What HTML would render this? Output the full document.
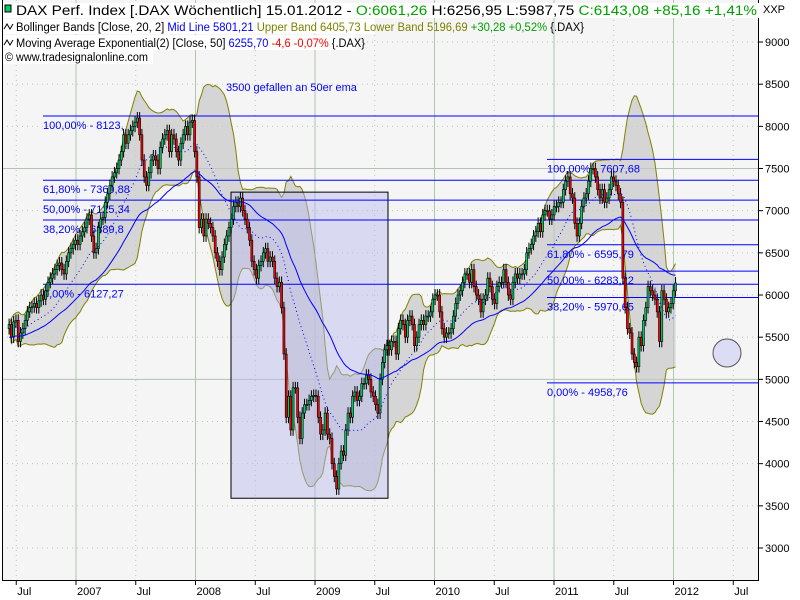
<!DOCTYPE html>
<html><head><meta charset="utf-8"><style>
body{margin:0;background:#fff}
svg{display:block;font-family:"Liberation Sans",sans-serif}
</style></head><body>
<svg id="chart" width="800" height="600" viewBox="0 0 800 600" xmlns="http://www.w3.org/2000/svg">
<rect x="0" y="0" width="800" height="600" fill="#ffffff"/>
<rect x="2" y="0" width="756" height="580" fill="#f5f5f5"/>
<g id="grid"></g>
<g id="bands"></g>
<g id="shapes"></g>
<g id="fibs"></g>
<g id="candles"></g>
<g id="lines"></g>
<g id="axes"></g>
<g id="header"></g>
</svg>
<script>
const NS='http://www.w3.org/2000/svg';
// weekly closes from mid-June 2006 to 13 Jan 2012
const closes=[5650,5500,5680,
5700,5450,5550,5600, 5700,5800,5850,5860, 5900,5850,5930,6000,5950, 6050,6150,6200,6250, 6300,6350,6380,6300, 6250,6400,6500,6550,6600,
6650,6600,6700,6750, 6800,6900,6950,6700, 6500,6550,6800,6900,6920, 7100,7200,7300,7400, 7450,7500,7600,7700, 7900,7800,7900,7950,8000, 8050,8100,7900,7600, 7400,7300,7450,7600,7650, 7600,7500,7750,7850, 7900,7950,7700,7900, 7850,7700,7600,7800,7900, 8000,7900,8050,8070,
7700,7400,6800,6900, 6700,6900,6850,6800,6700, 6500,6400,6300,6450, 6600,6700,6800,6900, 7050,7100,7050,7150,7000, 6900,6800,6650,6400, 6300,6200,6350,6400, 6500,6550,6400,6450,6400, 6200,6100,6150,5850, 5300,4550,4800,4400,4900, 4900,4550,4300,4600, 4700,4700,4750,4800,4810,
4800,4550,4350,4400, 4600,4350,4300,4000, 3850,3700,4000,4150,4100, 4400,4600,4550,4800, 4850,4750,4800,4950,4950, 5050,5000,4850,4800, 4700,4600,5000,5200, 5350,5400,5350,5450,5450, 5300,5600,5700,5650, 5500,5700,5750,5650,5400, 5500,5650,5700,5650, 5750,5750,5800,5950,
6000,6000,5800,5600, 5500,5550,5550,5600, 5750,5900,6000,6050,6150, 6250,6250,6150,6300, 6100,6000,5950,5800, 5950,6000,6200,6100,5950, 5900,6100,6150,6150, 6300,6150,6000,5950, 6150,6250,6200,6250, 6250,6300,6500,6550,6600, 6700,6750,6850,6750, 6950,7000,7000,6900,
6950,7050,7050,7100,7100, 7250,7350,7400,7200, 7150,6850,6700,6850, 7050,7150,7200,7350,7500, 7500,7400,7250,7150, 7250,7100,7150,7250, 7400,7350,7300,7200,7100, 6200,5850,5600,5550, 5300,5200,5150,5500,5400, 5700,5850,6100,6050, 6000,5950,5800,5450, 6050,5950,5800,5850,5900,
6050,6143];
const firstOpen=5600;
const priceTicks=[3000,3500,4000,4500,5000,5500,6000,6500,7000,7500,8000,8500,9000];
const solidPriceLines=[5000,7500];
const timeLabels=['Jul','2007','Jul','2008','Jul','2009','Jul','2010','Jul','2011','Jul','2012','Jul'];
const timeTicks=[2006.5,2007,2007.5,2008,2008.5,2009,2009.5,2010,2010.5,2011,2011.5,2012,2012.5];
const fibLeftLabels=['100,00% - 8123,','61,80% - 7360,88','50,00% - 7125,34','38,20% - 6889,8','0,00% - 6127,27'];
const fibLeftValues=[8123,7360.88,7125.34,6889.8,6127.27];
const fibRightLabels=['100,00% - 7607,68','61,80% - 6595,79','50,00% - 6283,22','38,20% - 5970,65','0,00% - 4958,76'];
const fibRightValues=[7607.68,6595.79,6283.22,5970.65,4958.76];
const startT=2006.44;

const y=p=>548-(p-3000)*0.08433;
const xT=t=>76+(t-2007)*119.5;
const xi=i=>xT(startT+i*7/365.25);
function el(tag,attrs,parent,txt){const e=document.createElementNS(NS,tag);for(const k in attrs)e.setAttribute(k,attrs[k]);if(txt!==undefined)e.textContent=txt;parent.appendChild(e);return e;}

// grid
const grid=document.getElementById('grid');
priceTicks.forEach(p=>{
 const solid=solidPriceLines.includes(p);
 const l=el('line',{x1:2,x2:758,y1:y(p),y2:y(p),stroke:solid?'#b0c4b0':'#b8c8b8','stroke-width':1,'stroke-dasharray':solid?'':'1,4'},grid);
 
 
});
timeTicks.forEach((t,i)=>{
 const major=timeLabels[i]!=='Jul';
 const l=el('line',{x1:xT(t),x2:xT(t),y1:0,y2:580,stroke:major?'#b0c4b0':'#b8c8b8','stroke-width':1,'stroke-dasharray':major?'':'1,4'},grid);
 
 
});

// bollinger & ema
const n=closes.length, mid=[],up=[],lo=[],ema=[];
for(let i=0;i<n;i++){
 const s=Math.max(0,i-19), w=closes.slice(s,i+1);
 const m=w.reduce((a,b)=>a+b,0)/w.length;
 const sd=Math.sqrt(w.reduce((a,b)=>a+(b-m)*(b-m),0)/w.length);
 mid.push(m);up.push(m+2*sd);lo.push(m-2*sd);
 const k=2/51; ema.push(i===0?closes[0]-150:ema[i-1]+k*(closes[i]-ema[i-1]));
}
const bands=document.getElementById('bands');
let d='';for(let i=0;i<n;i++)d+=(i?'L':'M')+xi(i).toFixed(1)+','+y(up[i]).toFixed(1);
for(let i=n-1;i>=0;i--)d+='L'+xi(i).toFixed(1)+','+y(lo[i]).toFixed(1);
const bf=el('path',{d:d+'Z',fill:'#c8c8c8','fill-opacity':0.7,stroke:'none'},bands);

['up','lo'].forEach(k=>{const arr=k==='up'?up:lo;let p='';arr.forEach((v,i)=>p+=(i?'L':'M')+xi(i).toFixed(1)+','+y(v).toFixed(1));
 const l=el('path',{d:p,fill:'none',stroke:'#808000','stroke-width':1},bands);
 });

// shapes
const sh=document.getElementById('shapes');
const r=el('rect',{x:231,y:y(7220),width:157,height:y(3590)-y(7220),fill:'#b8b8f0','fill-opacity':0.45,stroke:'#000','stroke-width':1},sh);

const c=el('circle',{cx:727,cy:353,r:14,fill:'#dcdcf4',stroke:'#555','stroke-width':1},sh);

const an=el('text',{x:226,y:91,'font-size':11,fill:'#0000ff'},sh,'3500 gefallen an 50er ema');


// fibs
const fg=document.getElementById('fibs');
fibLeftValues.forEach((v,i)=>{
 const l=el('line',{x1:43,x2:758,y1:y(v),y2:y(v),stroke:'#0000ff','stroke-width':1},fg);
 
 const t=el('text',{x:43,y:y(v)+13,'font-size':11,fill:'#0000ff'},fg,fibLeftLabels[i]);
 
});
fibRightValues.forEach((v,i)=>{
 const l=el('line',{x1:547,x2:758,y1:y(v),y2:y(v),stroke:'#0000ff','stroke-width':1},fg);
 
 const t=el('text',{x:547,y:y(v)+13,'font-size':11,fill:'#0000ff'},fg,fibRightLabels[i]);
 
});

// candles
const cg=document.getElementById('candles');
for(let i=0;i<n;i++){
 const o=i?closes[i-1]:firstOpen, cl=closes[i], x=xi(i);
 const hi=Math.max(o,cl)+70, lw=Math.min(o,cl)-70;
 const w=el('line',{x1:x,x2:x,y1:y(hi),y2:y(lw),stroke:'#000','stroke-width':1},cg);
 
 const top=y(Math.max(o,cl)), h=Math.max(1,Math.abs(y(o)-y(cl)));
 const b=el('rect',{x:x-1,y:top,width:2,height:h,fill:cl>=o?'#00cc66':'#ff0000',stroke:'#000','stroke-width':0.6},cg);
 
}
// lines
const lg=document.getElementById('lines');
let pm='',pe='';for(let i=0;i<n;i++){pm+=(i?'L':'M')+xi(i).toFixed(1)+','+y(mid[i]).toFixed(1);pe+=(i?'L':'M')+xi(i).toFixed(1)+','+y(ema[i]).toFixed(1);}
const ml=el('path',{d:pm,fill:'none',stroke:'#0000ff','stroke-width':1,'stroke-dasharray':'1,3'},lg);

const el50=el('path',{d:pe,fill:'none',stroke:'#0000ff','stroke-width':1},lg);


// axes
const ax=document.getElementById('axes');
const b1=el('path',{d:'M2.5,0V580.5H758.5V0',fill:'none',stroke:'#000','stroke-width':1},ax);

priceTicks.forEach(p=>{
 const tk=el('line',{x1:758,x2:763,y1:y(p),y2:y(p),stroke:'#000'},ax);
 
 const t=el('text',{x:765,y:y(p)+4,'font-size':11,fill:'#000'},ax,String(p));
 
});
const xxp=el('text',{x:763,y:13,'font-size':11,fill:'#000'},ax,'XXP');

timeTicks.forEach((t,i)=>{
 const tk=el('line',{x1:xT(t),x2:xT(t),y1:581,y2:585,stroke:'#000'},ax);
 
 const tx=el('text',{x:xT(t)+1,y:595,'font-size':11,fill:'#000'},ax,timeLabels[i]);
 
});
</script>
<script>
(function(){
const NS='http://www.w3.org/2000/svg';const h=document.getElementById('header');
const lines=[
 {y:15,len:741,x:16,w:760,fs:13.5,name:'header-price-line',parts:[['DAX Perf. Index [.DAX  Wöchentlich] 15.01.2012 - ','#000'],['O:6061,26','#00a000'],[' H:6256,95 L:5987,75 ','#000'],['C:6143,08 +85,16 +1,41%','#00a000']]},
 {y:31,len:568,x:16,w:372,fs:11.5,name:'header-bollinger-line',parts:[['Bollinger Bands [Close, 20, 2] ','#000'],['Mid Line 5801,21','#0000ff'],[' Upper Band 6405,73 Lower Band 5196,69','#808000'],[' +30,28 +0,52% ','#00a000'],['{.DAX}','#000']]},
 {y:47,len:349,x:16,w:352,fs:11.5,name:'header-ema-line',parts:[['Moving Average Exponential(2) [Close, 50] ','#000'],['6255,70','#0000ff'],[' -4,6 -0,07%','#ff0000'],[' {.DAX}','#000']]},
 {y:61,len:143,x:5,w:150,fs:11.5,name:'header-copyright',parts:[['© www.tradesignalonline.com','#000']]}
];
lines.forEach(L=>{
 const bg=document.createElementNS(NS,'rect');bg.setAttribute('x',3);bg.setAttribute('y',L.y-12);bg.setAttribute('width',L.w);bg.setAttribute('height',15);bg.setAttribute('fill','#fff');h.appendChild(bg);
 const t=document.createElementNS(NS,'text');t.setAttribute('x',L.x);t.setAttribute('y',L.y);t.setAttribute('font-size',L.fs);t.setAttribute('textLength',L.len);t.setAttribute('lengthAdjust','spacingAndGlyphs');
 
 
 L.parts.forEach(p=>{const s=document.createElementNS(NS,'tspan');s.setAttribute('fill',p[1]);s.textContent=p[0];t.appendChild(s);});
 h.appendChild(t);
});
const ic=document.createElementNS(NS,'rect');ic.setAttribute('x',5);ic.setAttribute('y',5);ic.setAttribute('width',6);ic.setAttribute('height',7);ic.setAttribute('fill','#00cc66');ic.setAttribute('stroke','#000');


h.appendChild(ic);
[31,47].forEach(yy=>{const p=document.createElementNS(NS,'path');p.setAttribute('d',`M4,${yy-2} l3,-5 l3,5 l3,-5`);p.setAttribute('fill','none');p.setAttribute('stroke','#000');
 
 
 h.appendChild(p);});
})();
</script>
</body></html>
